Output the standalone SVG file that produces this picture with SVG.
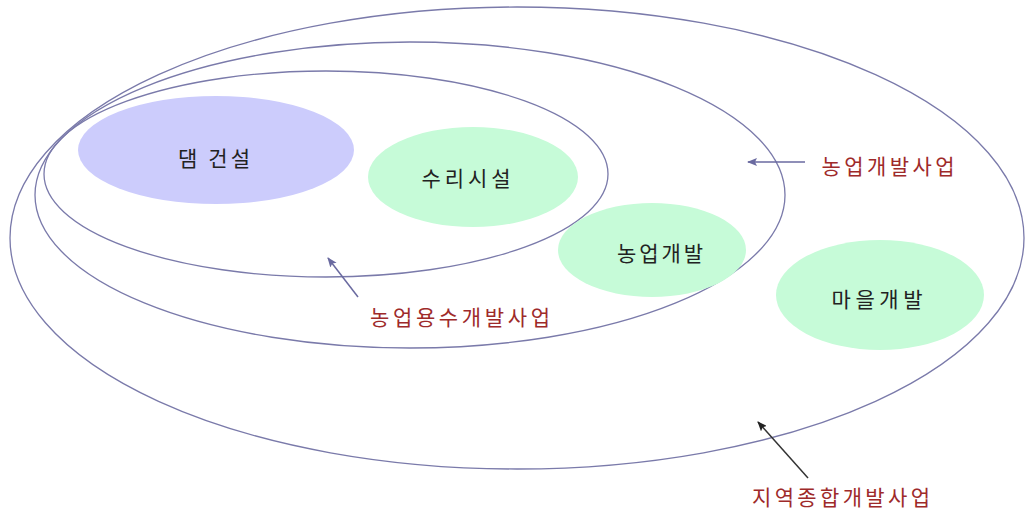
<svg xmlns="http://www.w3.org/2000/svg" width="1025" height="510" viewBox="0 0 1025 510">
<defs>
<style>
.ring{fill:none;stroke:#7a7aaa;stroke-width:1.3}
.lbl{font-family:"Noto Sans CJK KR","Noto Sans",sans-serif;font-size:21px;fill:#222;text-anchor:middle;dominant-baseline:central}
.cap{font-family:"Noto Sans CJK KR","Noto Sans",sans-serif;font-size:21px;fill:#9e2a2a;text-anchor:middle;dominant-baseline:central}
.blue{fill:#ccccfc}
.green{fill:#c6fbd8}
.arr{stroke:#6a6aa0;stroke-width:1.5;fill:none}
.arrk{stroke:#333;stroke-width:1.5;fill:none}
</style>
<marker id="mb" markerWidth="10" markerHeight="8" refX="9" refY="4" orient="auto" markerUnits="userSpaceOnUse"><path d="M0,0 L10,4 L0,8 L2,4 Z" fill="#6a6aa0"/></marker>
<marker id="mk" markerWidth="10" markerHeight="8" refX="9" refY="4" orient="auto" markerUnits="userSpaceOnUse"><path d="M0,0 L10,4 L0,8 L2,4 Z" fill="#222"/></marker>
</defs>
<rect width="1025" height="510" fill="#fff"/>
<g id="region">
<ellipse class="ring" cx="517" cy="238" rx="507" ry="231"/>
<text class="cap" x="841" y="496" textLength="178">지역종합개발사업</text>
</g>
<g id="agri-dev">
<ellipse class="ring" cx="410" cy="195" rx="375" ry="153"/>
<text class="cap" x="888" y="165" textLength="133">농업개발사업</text>
</g>
<g id="water-dev">
<ellipse class="ring" cx="326" cy="174" rx="282" ry="103"/>
<text class="cap" x="460" y="316" textLength="180">농업용수개발사업</text>
</g>
<g id="dam">
<ellipse class="blue" cx="216" cy="150" rx="138" ry="54"/>
<text class="lbl" x="214" y="157" textLength="72">댐 건설</text>
</g>
<g id="irrigation">
<ellipse class="green" cx="473" cy="177" rx="105" ry="50"/>
<text class="lbl" x="466" y="177" textLength="89">수리시설</text>
</g>
<g id="farm">
<ellipse class="green" cx="652" cy="250" rx="94" ry="47"/>
<text class="lbl" x="660" y="252" textLength="86">농업개발</text>
</g>
<g id="village">
<ellipse class="green" cx="880" cy="295" rx="104" ry="55"/>
<text class="lbl" x="877" y="298" textLength="91">마을개발</text>
</g>
<g id="connectors">
<line class="arr" x1="805" y1="162" x2="748" y2="162" marker-end="url(#mb)"/>
<line class="arr" x1="358" y1="297" x2="328" y2="258" marker-end="url(#mb)"/>
<line class="arrk" x1="808" y1="478" x2="758" y2="422" marker-end="url(#mk)"/>
</g>
</svg>
